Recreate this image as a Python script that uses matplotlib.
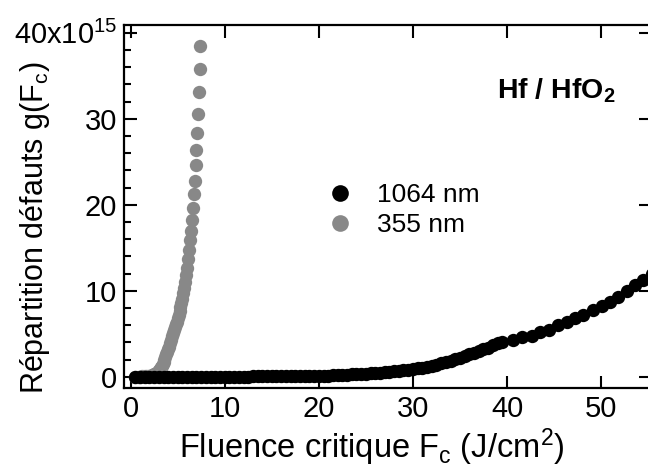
import numpy as np
import matplotlib.pyplot as plt
from matplotlib.ticker import MultipleLocator, FuncFormatter

plt.rcParams['font.family'] = ['Liberation Sans', 'DejaVu Sans']
plt.rcParams['mathtext.fontset'] = 'custom'
plt.rcParams['mathtext.rm'] = 'Liberation Sans'
plt.rcParams['mathtext.it'] = 'Liberation Sans:italic'
plt.rcParams['mathtext.bf'] = 'Liberation Sans:bold'
plt.rcParams['mathtext.default'] = 'regular'

# 1064 nm : fluence (J/cm2) and g(Fc) in units of 1e15
ir_x = [0.5, 1.0, 1.5, 2.0, 2.5, 3.0, 3.5, 4.0, 4.5, 5.0, 5.5, 6.0, 6.5, 7.0, 7.5,
        8.0, 8.5, 9.0, 9.5, 10.0, 10.5, 11.0, 11.5, 12.0, 12.5, 13.0, 13.5, 14.0,
        14.5, 15.0, 15.5, 16.0, 16.5, 17.0, 17.5, 18.0, 18.5, 19.0, 19.5, 20.0,
        20.5, 21.0, 21.5, 22.0, 22.5, 23.0, 23.5, 24.0, 24.5, 25.0, 25.5, 26.0,
        26.5, 27.0, 27.5, 28.0, 28.5, 29.0, 29.5, 30.0, 30.5, 31.0, 31.5, 32.0,
        32.5, 33.0, 33.5, 34.0, 34.5, 35.0, 35.5, 36.0, 36.5, 37.0, 37.5, 38.0,
        38.5, 39.0, 39.5,
        40.6, 41.6, 42.7, 43.5, 44.5, 45.4, 46.4, 47.2, 48.1, 49.1, 50.1, 50.9,
        51.8, 52.8, 53.6, 54.5, 55.4]
ir_y = [0.0, 0.0, 0.0, 0.0, 0.0, 0.0, 0.0, 0.0, 0.0, 0.0, 0.0, 0.0, 0.0, 0.0, 0.0,
        0.0, 0.01, 0.01, 0.01, 0.02, 0.02, 0.02, 0.03, 0.03, 0.03, 0.04, 0.04, 0.05,
        0.05, 0.05, 0.06, 0.06, 0.07, 0.07, 0.08, 0.08, 0.09, 0.09, 0.1, 0.1,
        0.12, 0.14, 0.16, 0.2, 0.22, 0.25, 0.27, 0.3, 0.33, 0.38, 0.41, 0.45,
        0.5, 0.55, 0.6, 0.65, 0.71, 0.77, 0.83, 0.9, 0.98, 1.08, 1.18, 1.3,
        1.42, 1.55, 1.7, 1.85, 2.02, 2.2, 2.4, 2.6, 2.8, 3.0, 3.2, 3.4,
        3.65, 3.9, 4.1,
        4.3, 4.6, 4.8, 5.2, 5.5, 6.0, 6.4, 6.8, 7.2, 7.8, 8.2, 8.7,
        9.3, 10.0, 10.7, 11.3, 12.0]

# 355 nm
uv_x = [0.5, 0.75, 1.0, 1.25, 1.5, 1.75, 2.0, 2.25, 2.5, 2.75,
        3.0, 3.1, 3.2, 3.3, 3.4, 3.5, 3.6, 3.7, 3.8, 3.9, 4.0, 4.1, 4.2, 4.3,
        4.4, 4.5, 4.6, 4.7, 4.8, 4.9, 5.0, 5.1, 5.2, 5.3, 5.4, 5.5, 5.6, 5.7,
        5.8, 5.9, 6.0, 6.1, 6.2, 6.3, 6.4, 6.5, 6.6, 6.7, 6.8, 6.9, 7.0, 7.1,
        7.2, 7.3, 7.35, 7.4]
uv_y = [0.0, 0.0, 0.02, 0.04, 0.06, 0.1, 0.15, 0.25, 0.35, 0.5,
        0.8, 0.95, 1.1, 1.3, 1.5, 1.75, 2.0, 2.3, 2.6, 2.9, 3.2, 3.5, 3.9, 4.3,
        4.7, 5.1, 5.5, 5.8, 6.1, 6.4, 6.8, 7.2, 7.6, 8.1, 8.6, 9.1, 9.7, 10.3,
        11.0, 11.8, 12.7, 13.7, 14.8, 15.9, 17.0, 18.2, 19.6, 21.2, 22.8, 24.6,
        26.4, 28.4, 30.6, 33.1, 35.8, 38.5]

scale = 1e15

fig = plt.figure(figsize=(6.48, 4.68), dpi=100)
ax = fig.add_axes([124/648, 1-388/468, (651-124)/648, (388-25)/468])

h_uv, = ax.plot(uv_x, np.array(uv_y)*scale, 'o', color='#888888', ms=9.6, mec='none')
h_ir, = ax.plot(ir_x, np.array(ir_y)*scale, 'o', color='black', ms=9.6, mec='none')

ax.set_xlim(-0.7, 55.3)
ax.set_ylim(-1.3e15, 40.9e15)
ax.xaxis.set_major_locator(MultipleLocator(10))
ax.yaxis.set_major_locator(MultipleLocator(10e15))
ax.yaxis.set_minor_locator(MultipleLocator(2e15))

def ylab(v, pos):
    n = int(round(v/scale))
    if n == 40:
        return '40x10$^{15}$'
    return str(n)
ax.yaxis.set_major_formatter(FuncFormatter(ylab))

ax.tick_params(which='both', direction='in', top=True, right=True, width=1.5,
               labelsize=21, pad=5)
ax.tick_params(which='major', length=9)
ax.tick_params(which='minor', length=5, right=False, top=False)
for s in ax.spines.values():
    s.set_linewidth(1.6)

ax.set_xlabel('Fluence critique F$_c$ (J/cm$^2$)', fontsize=23.5)
ax.set_ylabel('Répartition défauts g(F$_c$)', fontsize=22)
ax.xaxis.set_label_coords(0.47, -0.105)
ax.yaxis.set_label_coords(-0.137, 0.44)

ax.text(0.82, 0.82, 'Hf / HfO$_\\mathbf{2}$', transform=ax.transAxes, fontsize=20.5,
        fontweight='bold', ha='center', va='center')

ax.legend([h_ir, h_uv], ['1064 nm', '355 nm'], loc='center left',
          bbox_to_anchor=(0.315, 0.49), frameon=False, fontsize=19,
          markerscale=1.25, handletextpad=0.4, labelspacing=0.25)

fig.savefig('out.png', dpi=100)
